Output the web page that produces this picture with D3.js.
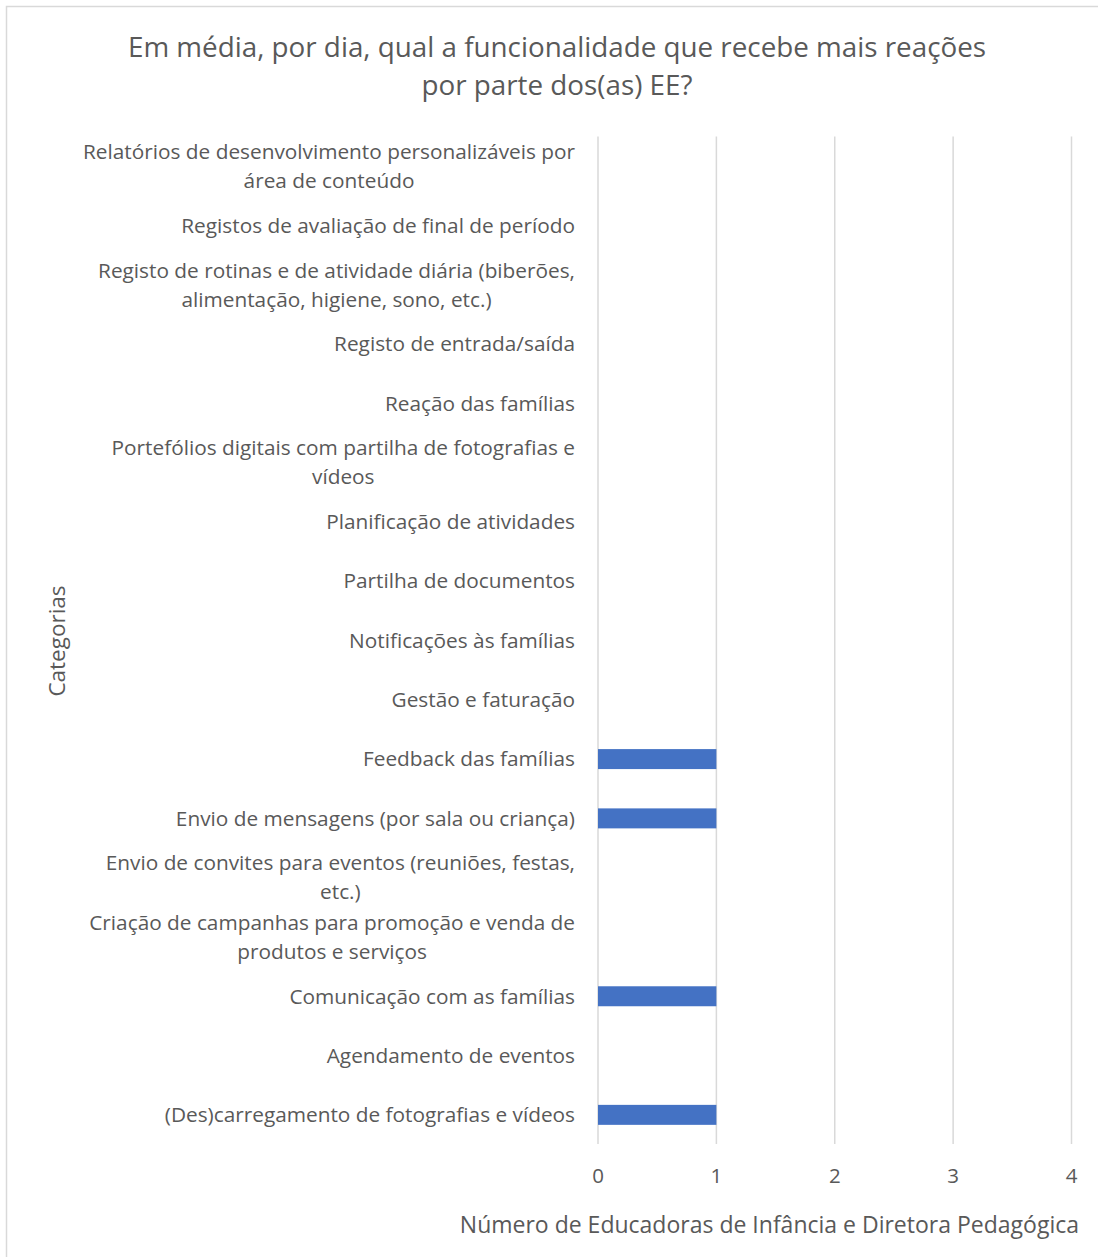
<!DOCTYPE html>
<meta charset="utf-8">
<style>
body{ margin:0; background:#fff; }
svg text{ font-family: "Open Sans", "Noto Sans", sans-serif; fill:#595959; }
</style>
<body>
<script src="https://d3js.org/d3.v7.min.js"></script>
<script>
// categories top -> bottom, "\n" marks the line break used in the chart
const categories = [
    "Relatórios de desenvolvimento personalizáveis por\nárea de conteúdo",
    "Registos de avaliação de final de período",
    "Registo de rotinas e de atividade diária (biberões,\nalimentação, higiene, sono, etc.)",
    "Registo de entrada/saída",
    "Reação das famílias",
    "Portefólios digitais com partilha de fotografias e\nvídeos",
    "Planificação de atividades",
    "Partilha de documentos",
    "Notificações às famílias",
    "Gestão e faturação",
    "Feedback das famílias",
    "Envio de mensagens (por sala ou criança)",
    "Envio de convites para eventos (reuniões, festas,\netc.)",
    "Criação de campanhas para promoção e venda de\nprodutos e serviços",
    "Comunicação com as famílias",
    "Agendamento de eventos",
    "(Des)carregamento de fotografias e vídeos"
];
const values = [0,0,0,0,0,0,0,0,0,0,1,1,0,0,1,0,1];
const xTicks = [0,1,2,3,4];
const titleLines = ["Em média, por dia, qual a funcionalidade que recebe mais reações", "por parte dos(as) EE?"];
const xTitle = "Número de Educadoras de Infância e Diretora Pedagógica";
const yTitle = "Categorias";

const width = 1098, height = 1257;
const svg = d3.select("body").append("svg")
    .attr("width", width)
    .attr("height", height);

// chart border
svg.append("rect")
    .attr("x", 6.5).attr("y", 6.5)
    .attr("width", width).attr("height", height)
    .attr("fill", "none")
    .attr("stroke", "#d9d9d9")
    .attr("stroke-width", 1.5);

const x = d3.scaleLinear().domain([0, 4]).range([598, 1071.5]);
const y = d3.scaleBand().domain(categories).range([136.5, 1144.5]).paddingInner(0.663).paddingOuter(0.3315);

// gridlines
svg.append("g").selectAll("line")
    .data(xTicks)
    .join("line")
    .attr("x1", d => x(d)).attr("x2", d => x(d))
    .attr("y1", 136.5).attr("y2", 1144)
    .attr("stroke", "#d9d9d9")
    .attr("stroke-width", 1.5);

// bars
svg.append("g").selectAll("rect")
    .data(categories)
    .join("rect")
    .attr("x", x(0))
    .attr("y", d => y(d))
    .attr("width", (d, i) => x(values[i]) - x(0))
    .attr("height", y.bandwidth())
    .attr("fill", "#4472c4");

// category labels (multi-line centred, block right aligned)
const labelRight = 575;
const lineH = 29;
const lab = svg.append("g").selectAll("g")
    .data(categories)
    .join("g");
lab.each(function(d){
    const g = d3.select(this);
    const lines = d.split("\n");
    const cy = y(d) + y.bandwidth() / 2;
    const ts = lines.map((t, k) => g.append("text")
        .attr("y", cy + (k - (lines.length - 1) / 2) * lineH)
        .attr("dy", "0.35em")
        .attr("text-anchor", "middle")
        .style("font-size", "20.8px")
        .text(t));
    const maxW = d3.max(ts, t => t.node().getComputedTextLength());
    ts.forEach(t => t.attr("x", labelRight - maxW / 2));
});

// x tick labels
svg.append("g").selectAll("text")
    .data(xTicks)
    .join("text")
    .attr("x", d => x(d))
    .attr("y", 1176)
    .attr("dy", "0.35em")
    .attr("text-anchor", "middle")
    .style("font-size", "20.5px")
    .text(d => d);

// title
svg.append("g").selectAll("text")
    .data(titleLines)
    .join("text")
    .attr("x", 557)
    .attr("y", (d, i) => 47 + i * 38)
    .attr("dy", "0.35em")
    .attr("text-anchor", "middle")
    .style("font-size", "27.8px")
    .text(d => d);

// axis titles
svg.append("text")
    .attr("x", 1079)
    .attr("y", 1225)
    .attr("dy", "0.35em")
    .attr("text-anchor", "end")
    .style("font-size", "23px")
    .text(xTitle);

svg.append("text")
    .attr("transform", "translate(57,641) rotate(-90)")
    .attr("dy", "0.35em")
    .attr("text-anchor", "middle")
    .style("font-size", "22.5px")
    .text(yTitle);
</script>
</body>
</html>
